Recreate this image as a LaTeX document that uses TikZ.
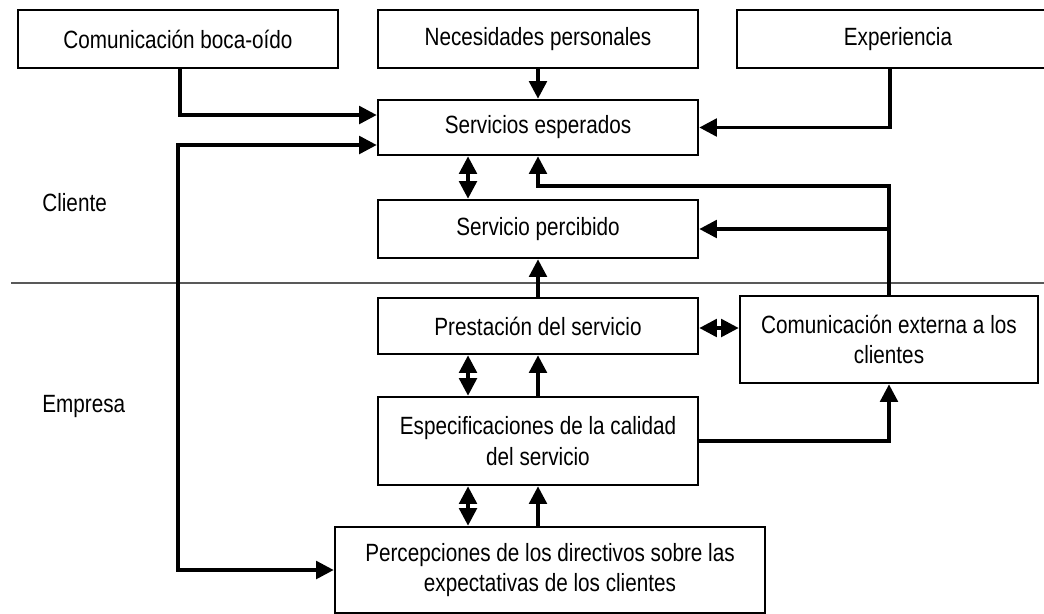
\documentclass[tikz,border=0pt]{standalone}
\usepackage{fontspec}
\setmainfont[FakeStretch=0.83]{Liberation Sans}
\usetikzlibrary{arrows.meta}

\begin{document}
\begin{tikzpicture}[x=0.02cm,y=-0.02cm,
  font=\fontsize{14.2pt}{17.5pt}\selectfont,
  box/.style={draw, line width=1.5pt, align=center, inner sep=2pt},
  arr/.style={line width=2pt, -{Triangle[length=10pt,width=10pt]}},
  dbl/.style={line width=2pt, {Triangle[length=10pt,width=10pt]}-{Triangle[length=10pt,width=10pt]}}]
  \useasboundingbox (0,0) rectangle (1044,613);
  \clip (0,0) rectangle (1044,613);
  \draw[line width=1.6pt, black!65] (11,283) -- (1044,283);
  \node[box, minimum width=6.4cm, minimum height=1.16cm] (boca) at (178,39) {Comunicación boca-oído};
  \node[box, minimum width=6.4cm, minimum height=1.16cm] (neces) at (538,39) {Necesidades personales};
  \node[box, minimum width=6.44cm, minimum height=1.16cm] (exper) at (898,39) {Experiencia};
  \node[box, minimum width=6.4cm, minimum height=1.1cm] (esper) at (538,127.5) {Servicios esperados};
  \node[box, minimum width=6.4cm, minimum height=1.16cm] (percib) at (538,229) {Servicio percibido};
  \node[box, minimum width=6.4cm, minimum height=1.12cm] (prest) at (538,326) {Prestación del servicio};
  \node[box, minimum width=6.4cm, minimum height=1.76cm] (espec) at (538,441) {Especificaciones de la calidad\\del servicio};
  \node[box, minimum width=8.6cm, minimum height=1.72cm] (percep) at (550,570) {Percepciones de los directivos sobre las\\expectativas de los clientes};
  \node[box, minimum width=5.96cm, minimum height=1.74cm] (extern) at (889,339.5) {Comunicación externa a los\\clientes};
  \node[anchor=base west, inner sep=0pt] (cliente) at (42,211) {Cliente};
  \node[anchor=base west, inner sep=0pt] (empresa) at (42,412) {Empresa};
  \coordinate (loop) at (178,570);
  \coordinate (top) at (889,186);
  \coordinate (sl) at ([xshift=-1.4cm]espec.south);
  \draw[arr] ([xshift=0.04cm]boca.south) |- ([yshift=0.25cm]esper.west);
  \draw[dbl] ([yshift=-0.35cm]esper.west) -| (loop) -- (percep.west);
  \draw[arr] (neces) -- (esper);
  \draw[arr] ([xshift=-0.16cm]exper.south) |- (esper.east);
  \draw[dbl] ([xshift=-1.4cm]esper.south) -- ([xshift=-1.4cm]percib.north);
  \draw[arr] (extern.north) -- (top) -| (esper.south);
  \draw[arr] (extern.north |- percib.east) -- (percib.east);
  \draw[arr] (prest) -- (percib);
  \draw[dbl] ([yshift=-0.04cm]prest.east) -- ([yshift=-0.04cm]prest.east -| extern.west);
  \draw[dbl] ([xshift=-1.4cm]espec.north) -- ([xshift=-1.4cm]prest.south);
  \draw[arr] (espec) -- (prest);
  \draw[arr] (espec.east) -| (extern.south);
  \draw[dbl] (sl) -- (sl |- percep.north);
  \draw[arr] (espec.south |- percep.north) -- (espec.south);
\end{tikzpicture}
\end{document}
